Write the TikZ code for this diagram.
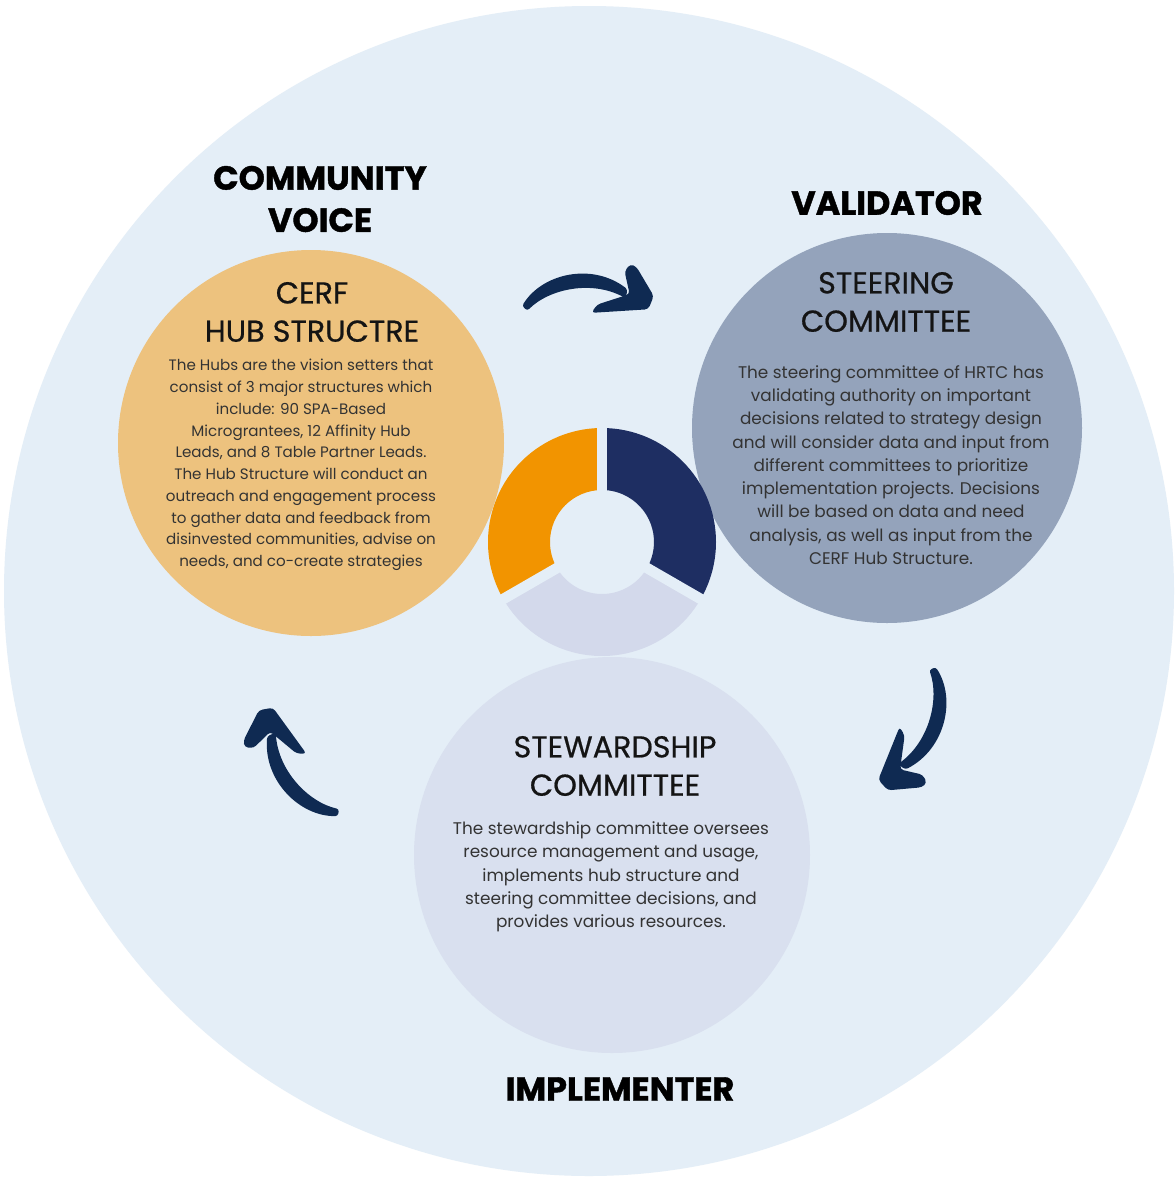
\documentclass[tikz,border=0pt]{standalone}
\usepackage{fontspec}
\setmainfont{Poppins}
\newfontfamily\titlefont{Poppins}[FakeBold=0.6]
\newfontfamily\rolefont{Poppins}[BoldFeatures={FakeBold=1.2}]
\usetikzlibrary{positioning}

\definecolor{ringbg}{HTML}{E4EEF7}
\definecolor{hubfill}{HTML}{EDC27E}
\definecolor{steerfill}{HTML}{94A3BB}
\definecolor{stewfill}{HTML}{D9E0EF}
\definecolor{donutorange}{HTML}{F29400}
\definecolor{donutnavy}{HTML}{1E2E62}
\definecolor{donutpale}{HTML}{D3D9EB}
\definecolor{arrownavy}{HTML}{0F2A52}
\definecolor{bodygray}{HTML}{333333}

\tikzset{
  role/.style={font=\rolefont\bfseries\fontsize{19}{24}\selectfont, align=center, text=black, inner sep=0pt},
  heading/.style={font=\titlefont\fontsize{17.2}{21.8}\selectfont, align=center, text=black!92, inner sep=0pt},
  blurb/.style={font=\fontsize{8.6}{12.4}\selectfont, align=center, text=bodygray, inner sep=0pt},
  wideblurb/.style={blurb, font=\fontsize{9.6}{13.25}\selectfont},
  % brush-stroke arrow, tail at (-65,0), tip at (65,0), bulging to -y
  swoosh/.pic={
    \fill[arrownavy, rounded corners=1.5pt]
      (-66,0) .. controls (-45,-31) and (5,-41) .. (40,-12)
      -- (38,-3) .. controls (5,-23) and (-38,-16) .. (-61,5) -- cycle;
    \fill[arrownavy, rounded corners=2pt]
      (44,-37) -- (50,-34) -- (66,-4) -- (60,9) -- (3,10) -- (9,2)
      -- (42,-7) -- (38,-30) -- cycle;
  }
}

\begin{document}
\begin{tikzpicture}[x=0.02cm, y=-0.02cm]
  \useasboundingbox (0,0) rectangle (1175,1177);
  \fill[white] (0,0) rectangle (1175,1177);

  % outer disc
  \fill[ringbg] (589,591) circle (585);

  % the three bodies
  \fill[hubfill] (311,443) circle (193);
  \fill[steerfill] (887,428) circle (195);
  \fill[stewfill] (612,855) circle (198);

  % donut in the middle
  \begin{scope}[shift={(602,542)}]
    \foreach \a/\b/\col in {-90/30/donutnavy, 30/150/donutpale, 150/270/donutorange}
      \fill[\col] (\a:114) arc (\a:\b:114) -- (\b:52) arc (\b:\a:52) -- cycle;
    \foreach \a in {-90,30,150}
      \draw[ringbg, line width=6pt] (\a:40) -- (\a:122);
  \end{scope}

  % arrows between the bodies
  \pic[rotate=2.6] at (588,303) {swoosh};
  \pic[rotate=-113] at (910,728) {swoosh};
  \pic[rotate=125] at (300,762) {swoosh};

  % roles
  \node[role] (voice) at (320,199) {COMMUNITY\\VOICE};
  \node[role] (validator) at (887,203) {VALIDATOR};
  \node[role] (implementer) at (620,1089) {IMPLEMENTER};

  % hub structure
  \node[heading] (hubtitle) at (312,312) {CERF\\HUB STRUCTRE};
  \node[blurb] (hubtext) at (301,465) {The Hubs are the vision setters that\\
    consist of 3 major structures which\\
    include: 90 SPA-Based\\
    Micrograntees, 12 Affinity Hub\\
    Leads, and 8 Table Partner Leads.\\
    The Hub Structure will conduct an\\
    outreach and engagement process\\
    to gather data and feedback from\\
    disinvested communities, advise on\\
    needs, and co-create strategies};

  % steering committee
  \node[heading] (steertitle) at (886,302) {STEERING\\COMMITTEE};
  \node[wideblurb] (steertext) at (891,465) {The steering committee of HRTC has\\
    validating authority on important\\
    decisions related to strategy design\\
    and will consider data and input from\\
    different committees to prioritize\\
    implementation projects. Decisions\\
    will be based on data and need\\
    analysis, as well as input from the\\
    CERF Hub Structure.};

  % stewardship committee
  \node[heading] (stewtitle) at (615,766) {STEWARDSHIP\\COMMITTEE};
  \node[wideblurb] (stewtext) at (611,877) {The stewardship committee oversees\\
    resource management and usage,\\
    implements hub structure and\\
    steering committee decisions, and\\
    provides various resources.};
\end{tikzpicture}
\end{document}
